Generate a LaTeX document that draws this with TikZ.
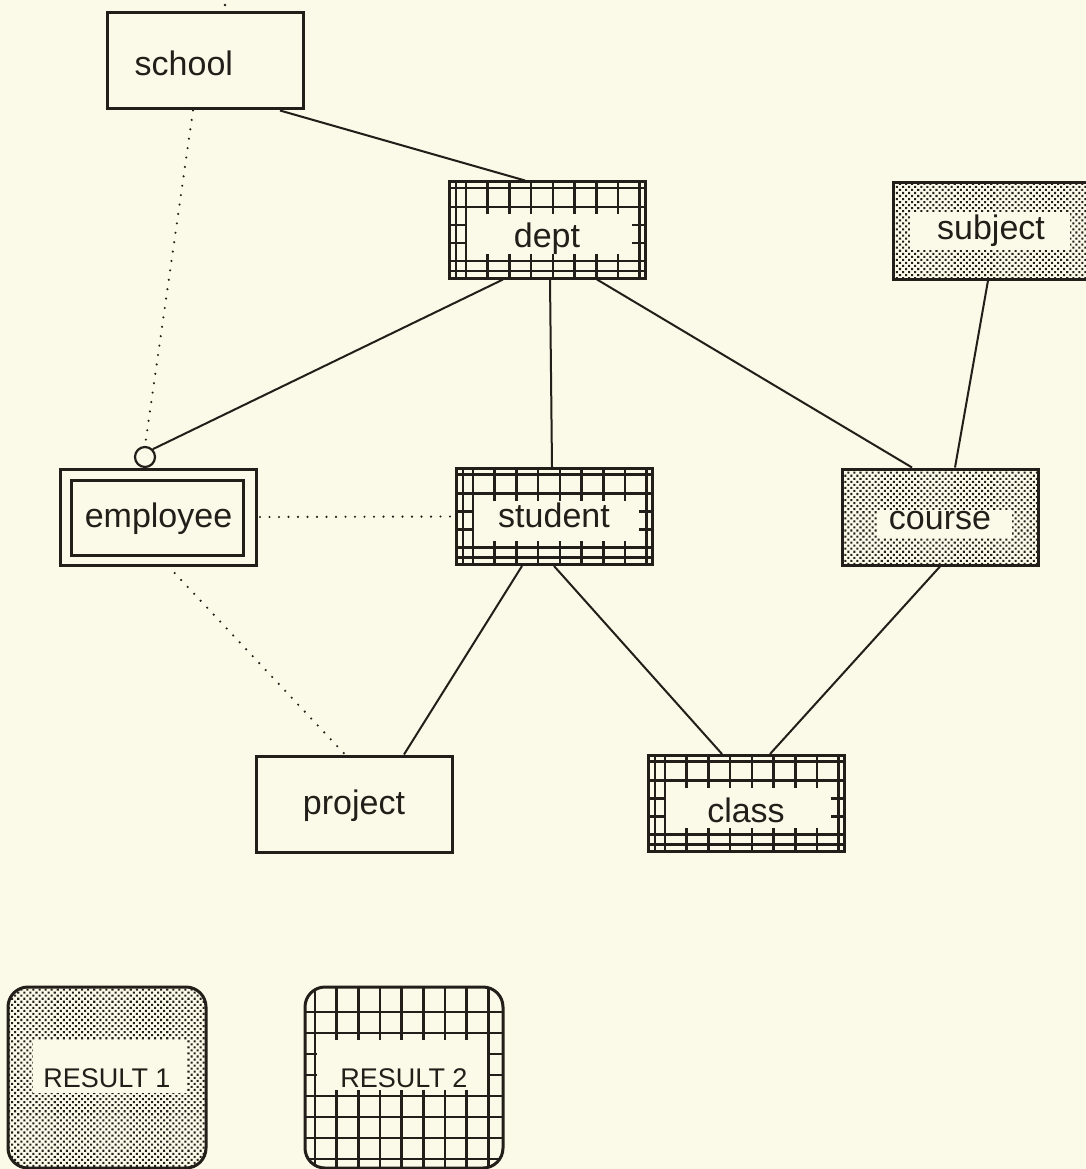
\documentclass[tikz,border=0pt]{standalone}
\usepackage{fontspec}
\setmainfont{Liberation Sans}
\usetikzlibrary{patterns.meta}
\definecolor{paper}{RGB}{251,249,231}
\definecolor{ink}{RGB}{35,30,25}
\newcommand\lblfont{\fontsize{34}{40}\selectfont}
\newcommand\resfont{\fontsize{27}{32}\selectfont}

\begin{document}
\begin{tikzpicture}[x=1pt,y=-1pt,
  box/.style={draw=ink, line width=3pt, minimum width=196pt, minimum height=96pt,
    inner sep=0pt, font=\lblfont, text=ink, text height=24.5pt, text depth=7pt},
  txtlow/.style={text height=#1},
  gridln/.style={draw=ink, line width=2.6pt},
  conn/.style={draw=ink, line width=2pt},
  dotln/.style={draw=ink, line width=2.4pt, line cap=round, dash pattern=on 0pt off 9.5pt},
  dots/.style={pattern={Dots[distance=4.3pt,radius=1.45pt,angle=45]}, pattern color=ink},
  % entity with a grid fill and a clear label band
  gridbox/.style={box, path picture={
    \coordinate (pnw) at (path picture bounding box.north west);
    \foreach \gx in {7,17,38.7,60.4,82.1,103.8,125.5,147.2,168.9,190.6}
      \draw[gridln] ([shift={(\gx,-2)}]pnw) -- ([shift={(\gx,98)}]pnw);
    \foreach \gy in {6,25,43,61,79,89}
      \draw[gridln] ([shift={(-2,\gy)}]pnw) -- ([shift={(198,\gy)}]pnw);
    \fill[paper] ([shift={(18,32)}]pnw) rectangle ([shift={(183,72)}]pnw);}},
  % entity with a dotted fill; the arguments give the clear label band
  dotbox/.style n args={4}{box, dots, path picture={
    \fill[paper, sharp corners] ([shift={(#1,#2)}]path picture bounding box.north west)
      rectangle ([shift={(#3,#4)}]path picture bounding box.north west);}},
  % weak entity: double frame
  weakbox/.style={box, path picture={
    \draw[ink, line width=3pt]
      ([shift={(11,11)}]path picture bounding box.north west) rectangle
      ([shift={(-13,-10)}]path picture bounding box.south east);}},
  resbox/.style={draw=ink, line width=3pt, rounded corners=20pt, minimum width=198pt,
    minimum height=181pt, inner sep=0pt, font=\resfont, text=ink,
    text height=19.5pt, text depth=0pt},
  resgrid/.style={resbox, path picture={
    \coordinate (pnw) at (path picture bounding box.north west);
    \foreach \gx in {10,31.7,53.3,75,96.7,118.3,140,161.7,183.3}
      \draw[gridln, sharp corners] ([shift={(\gx,-2)}]pnw) -- ([shift={(\gx,183)}]pnw);
    \foreach \gy in {25,46,67,88,109,130,151,172}
      \draw[gridln, sharp corners] ([shift={(-2,\gy)}]pnw) -- ([shift={(200,\gy)}]pnw);
    \fill[paper, sharp corners] ([shift={(12,53)}]pnw) rectangle ([shift={(182,103)}]pnw);}}
]
\fill[paper] (0,0) rectangle (1086,1169);
\useasboundingbox (0,0) rectangle (1086,1169);

% entities
\node[box] (school) at (205,61) {};
\node[font=\lblfont, text=ink, anchor=west, inner sep=0pt] (schoollbl) at ([xshift=29pt,yshift=-2pt]school.west) {school};
\node[gridbox, txtlow=41.5pt] (dept) at (547,230) {dept};
\node[dotbox={17}{29}{177}{67}] (subject) at (991,231) {subject};
\node[weakbox, txtlow=28.5pt] (employee) at (158.5,517) {employee};
\node[gridbox, txtlow=29.5pt] (student) at (554,516.5) {student};
\node[dotbox={35}{41}{170}{69}, txtlow=32.5pt] (course) at (940,517) {course};
\node[box, txtlow=28.5pt] (project) at (354,804) {project};
\node[gridbox, txtlow=45.5pt] (class) at (746,803.5) {class};
\node[circle, draw=ink, fill=paper, line width=2.2pt, minimum size=20pt, inner sep=0pt]
  (empcirc) at (145,457) {};

% result legend
\node[resbox, dots, path picture={\fill[paper, sharp corners]
    ([shift={(25,53)}]path picture bounding box.north west) rectangle
    ([shift={(179,106)}]path picture bounding box.north west);}]
  (res1) at (107,1077.5) {RESULT 1};
\node[resgrid] (res2) at (404,1077.5) {RESULT 2};

% relationships
\draw[conn] ([xshift=75pt]school.south) -- ([xshift=-22pt]dept.north);
\draw[dotln] ([xshift=-12pt]school.south) -- (empcirc.north);
\draw[conn] ([xshift=-44pt]dept.south) -- (empcirc.north east);
\draw[conn] ([xshift=3pt]dept.south) -- ([xshift=-2pt]student.north);
\draw[conn] ([xshift=50pt]dept.south) -- ([xshift=-28pt]course.north);
\draw[conn] ([xshift=-3pt]subject.south) -- ([xshift=15pt]course.north);
\draw[dotln] ([xshift=2pt]employee.east) -- (student.west);
\draw[dotln, shorten <=9pt] ([xshift=10pt]employee.south) -- ([xshift=-9pt]project.north);
\draw[conn] ([xshift=-32pt]student.south) -- ([xshift=50pt]project.north);
\draw[conn] (student.south) -- ([xshift=-24pt]class.north);
\draw[conn] (course.south) -- ([xshift=24pt]class.north);

% stray mark above the school box
\fill[ink] (225,5) circle (1.3pt);
\end{tikzpicture}
\end{document}
